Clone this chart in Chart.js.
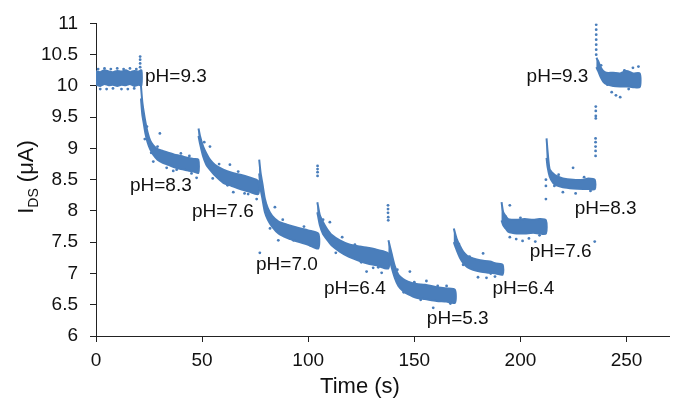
<!DOCTYPE html>
<html>
<head>
<meta charset="utf-8">
<script src="https://cdn.jsdelivr.net/npm/chart.js@4"></script>
<style>
    html, body { margin: 0; padding: 0; background: #fff; }
    #wrap { width: 680px; height: 400px; }
</style>
</head>
<body>
<div id="wrap"><canvas id="chart" width="680" height="400"></canvas></div>
<script>
// each pH step is drawn as a band between an upper and a lower edge
const bandTimes = [
    [0, 2, 4, 6, 8, 10, 12, 14, 16, 18, 20, 21.4],
    [21.2, 21.8, 22.5, 23.3, 24.3, 25.5, 27, 29, 31.5, 34, 37, 40, 43, 46, 48.2],
    [48.3, 49, 50.5, 52, 53.7, 56, 60, 64, 68, 72, 76.4],
    [76.9, 77.6, 78.5, 79.6, 81, 83, 86, 90, 95, 100, 104.7],
    [104.3, 105.5, 107, 108.7, 111, 114.9, 119, 124.3, 128, 132.2, 137.7],
    [137.8, 139.3, 140.8, 142.5, 144.7, 147, 151, 155, 160.5, 165, 169.1],
    [168.6, 169.9, 171.5, 173, 175, 177.7, 181, 185.6, 188.5, 191.6],
    [191.1, 191.9, 193, 194.2, 196, 198.2, 202, 206, 209, 212],
    [212.3, 212.8, 213.8, 215.4, 217, 220, 224.8, 229.5, 232, 235],
    [235.8, 236.6, 237.8, 239, 240.5, 243.7, 247, 250, 253, 256.2]
];
const bandUpper = [
    [10.24, 10.22, 10.25, 10.23, 10.22, 10.24, 10.23, 10.25, 10.22, 10.24, 10.23, 10.25],
    [10.0, 9.75, 9.58, 9.42, 9.26, 9.13, 9.05, 8.99, 8.96, 8.93, 8.9, 8.88, 8.85, 8.83, 8.82],
    [9.32, 9.2, 9.03, 8.92, 8.82, 8.74, 8.66, 8.61, 8.58, 8.54, 8.48],
    [8.82, 8.6, 8.42, 8.19, 8.04, 7.92, 7.83, 7.78, 7.73, 7.69, 7.64],
    [8.14, 7.93, 7.82, 7.72, 7.62, 7.53, 7.47, 7.43, 7.41, 7.38, 7.32],
    [7.53, 7.32, 7.12, 6.98, 6.91, 6.87, 6.83, 6.82, 6.78, 6.76, 6.74],
    [7.72, 7.56, 7.44, 7.35, 7.28, 7.24, 7.21, 7.19, 7.16, 7.14],
    [8.14, 7.98, 7.92, 7.87, 7.86, 7.86, 7.87, 7.86, 7.87, 7.85],
    [9.16, 8.95, 8.66, 8.6, 8.56, 8.52, 8.5, 8.5, 8.52, 8.5],
    [10.45, 10.4, 10.3, 10.24, 10.21, 10.21, 10.2, 10.24, 10.2, 10.2]
];
const bandLower = [
    [10.02, 10.0, 10.03, 10.01, 10.02, 10.0, 10.02, 10.01, 10.03, 10.0, 10.02, 10.01],
    [9.8, 9.55, 9.4, 9.24, 9.1, 8.99, 8.9, 8.82, 8.77, 8.74, 8.7, 8.67, 8.65, 8.63, 8.61],
    [9.2, 9.08, 8.87, 8.74, 8.66, 8.57, 8.45, 8.4, 8.35, 8.31, 8.27],
    [8.6, 8.35, 8.18, 7.98, 7.86, 7.75, 7.64, 7.57, 7.51, 7.46, 7.4],
    [7.98, 7.77, 7.63, 7.55, 7.45, 7.35, 7.27, 7.2, 7.16, 7.13, 7.08],
    [7.3, 7.1, 6.93, 6.8, 6.72, 6.67, 6.61, 6.59, 6.56, 6.55, 6.53],
    [7.5, 7.38, 7.25, 7.17, 7.1, 7.06, 7.03, 7.01, 7.0, 6.98],
    [7.85, 7.77, 7.72, 7.67, 7.65, 7.64, 7.64, 7.65, 7.64, 7.64],
    [8.85, 8.7, 8.55, 8.45, 8.41, 8.38, 8.36, 8.35, 8.35, 8.35],
    [10.3, 10.24, 10.14, 10.07, 10.03, 10.0, 9.99, 9.99, 9.98, 9.98]
];

// stray readings and the spikes at each solution change
const strayTime = [
    1, 4, 7, 10, 13, 16, 19, 2, 5, 8, 12, 15, 18,
    20.8, 20.8, 20.8, 20.8,
    30.1, 27, 33.3, 36.4, 47.4, 24, 29, 40, 44, 23, 26, 38, 45,
    53.7, 63.1, 64.7, 71.7, 75.7, 51, 58, 67, 55, 62, 70,
    85.9, 77.2, 91.4, 84.3, 80, 88, 98, 82, 93, 101,
    104.4, 104.4, 104.4, 104.4,
    110.2, 127.5, 130.6, 134.6, 107, 116, 122, 113, 125, 133,
    137.6, 137.6, 137.6, 137.7, 137.7,
    147.9, 155.7, 165.2, 158.9, 142, 150, 161, 145, 153, 167,
    182.4, 180, 184, 188, 171, 176, 173, 186,
    195, 195, 198, 201, 204, 207, 212, 235, 193, 200, 209,
    212, 212, 224.8, 220, 226, 214, 218, 230, 216, 233,
    235.4, 235.4, 235.4, 235.4, 235.4, 235.5, 235.5, 235.5, 235.5,
    235.7, 235.7, 235.7, 235.7, 235.7, 235.7, 235.7,
    243, 245, 247, 253, 255.6, 238, 249, 241, 251
];
const strayValue = [
    10.27, 10.28, 10.27, 10.28, 10.27, 10.28, 10.27, 9.95, 9.95, 9.96, 9.95, 9.95, 9.96,
    10.47, 10.42, 10.36, 10.3,
    9.24, 8.79, 8.69, 8.64, 8.53, 9.35, 9.03, 8.92, 8.88, 9.15, 8.93, 8.66, 8.6,
    9.03, 8.74, 8.3, 8.27, 8.19, 9.1, 8.75, 8.63, 8.52, 8.41, 8.28,
    7.53, 7.33, 7.56, 8.06, 8.1, 7.86, 7.75, 7.72, 7.53, 7.45,
    8.72, 8.67, 8.62, 8.56,
    7.82, 7.03, 7.09, 7.01, 7.86, 7.58, 7.46, 7.33, 7.18, 7.1,
    8.09, 8.03, 7.97, 7.9, 7.85,
    7.03, 6.88, 6.8, 6.45, 7.06, 6.86, 6.8, 6.7, 6.58, 6.52,
    7.32, 6.94, 6.93, 6.95, 7.47, 7.27, 7.14, 7.0,
    8.09, 7.58, 7.55, 7.52, 7.56, 7.51, 8.19, 7.51, 7.91, 7.89, 7.61,
    8.5, 8.4, 8.69, 8.3, 8.28, 8.64, 8.58, 8.54, 8.4, 8.32,
    9.16, 9.1, 9.03, 8.96, 8.88, 9.67, 9.6, 9.52, 9.48,
    10.98, 10.9, 10.82, 10.74, 10.66, 10.58, 10.5,
    9.9, 9.85, 9.82, 10.29, 10.31, 10.33, 10.25, 10.02, 9.95
];

const labelText = ['pH=9.3', 'pH=8.3', 'pH=7.6', 'pH=7.0', 'pH=6.4', 'pH=5.3', 'pH=6.4', 'pH=7.6', 'pH=8.3', 'pH=9.3'];
const labelTime = [23.1, 16, 45.2, 75.4, 107.4, 155.9, 186.8, 204.4, 225.6, 202.9];
const labelValue = [10.14, 8.41, 7.98, 7.14, 6.75, 6.28, 6.76, 7.35, 8.03, 10.15];

const BLUE = '#4a7ebb';
const FONT = "'Liberation Sans', Arial, sans-serif";

// one closed outline per band: along the upper edge, back along the lower edge
const datasets = bandTimes.map((times, i) => {
    const top = times.map((t, j) => ({ x: t, y: bandUpper[i][j] }));
    const bottom = times.map((t, j) => ({ x: t, y: bandLower[i][j] })).reverse();
    return {
        data: top.concat(bottom),
        borderColor: BLUE,
        borderWidth: 2,
        backgroundColor: BLUE,
        pointRadius: 0,
        tension: 0.25,
        fill: 'shape'
    };
});
datasets.push({
    data: strayTime.map((t, j) => ({ x: t, y: strayValue[j] })),
    showLine: false,
    pointRadius: 1.4,
    pointBorderWidth: 0,
    pointBackgroundColor: BLUE,
    borderColor: BLUE
});

const annotations = {
    id: 'annotations',
    afterDraw(chart) {
        const { ctx, scales: { x, y } } = chart;
        ctx.save();
        ctx.fillStyle = '#111';
        ctx.font = `19px ${FONT}`;
        ctx.textAlign = 'left';
        ctx.textBaseline = 'middle';
        labelText.forEach((txt, i) => {
            ctx.fillText(txt, x.getPixelForValue(labelTime[i]), y.getPixelForValue(labelValue[i]));
        });

        // x title
        ctx.font = `22px ${FONT}`;
        ctx.textAlign = 'center';
        ctx.textBaseline = 'alphabetic';
        ctx.fillText('Time (s)', 360, 393);

        // y title with subscript
        ctx.translate(33, 177);
        ctx.rotate(-Math.PI / 2);
        ctx.textAlign = 'left';
        const big = `22px ${FONT}`;
        const small = `14px ${FONT}`;
        ctx.font = big;
        const wI = ctx.measureText('I').width;
        const wRest = ctx.measureText(' (μA)').width;
        ctx.font = small;
        const wDS = ctx.measureText('DS').width;
        let px = -(wI + wDS + wRest) / 2;
        ctx.font = big;
        ctx.fillText('I', px, 0);
        px += wI;
        ctx.font = small;
        ctx.fillText('DS', px, 5);
        px += wDS;
        ctx.font = big;
        ctx.fillText(' (μA)', px, 0);
        ctx.restore();
    }
};

new Chart(document.getElementById('chart').getContext('2d'), {
    type: 'line',
    data: { datasets },
    options: {
        responsive: false,
        animation: false,
        layout: { padding: { top: 18, right: 11, left: 0, bottom: 0 } },
        plugins: {
            legend: { display: false },
            tooltip: { enabled: false }
        },
        events: [],
        scales: {
            x: {
                type: 'linear',
                min: 0,
                max: 270,
                afterFit: (s) => { s.height = 64; },
                border: { color: '#222', width: 1 },
                grid: { drawOnChartArea: false, drawTicks: true, tickLength: 6, color: '#222' },
                ticks: {
                    stepSize: 50,
                    includeBounds: false,
                    padding: 7,
                    color: '#111',
                    font: { family: FONT, size: 19 }
                }
            },
            y: {
                type: 'linear',
                min: 6,
                max: 11,
                afterFit: (s) => { s.width = 96; },
                border: { color: '#222', width: 1 },
                grid: { drawOnChartArea: false, drawTicks: true, tickLength: 6, color: '#222' },
                ticks: {
                    stepSize: 0.5,
                    padding: 12,
                    color: '#111',
                    font: { family: FONT, size: 19 },
                    callback: (v) => String(v)
                }
            }
        }
    },
    plugins: [annotations]
});
</script>
</body>
</html>
